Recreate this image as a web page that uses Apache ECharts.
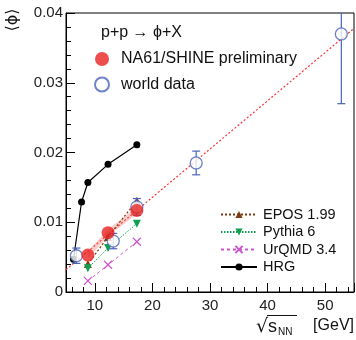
<!DOCTYPE html>
<html>
<head>
<meta charset="UTF-8">
<title>phi multiplicity in p+p</title>
<script src="https://cdn.jsdelivr.net/npm/echarts@6/dist/echarts.min.js"></script>
<style>
  html, body { margin: 0; padding: 0; background: #fff; }
  #chart { width: 356px; height: 340px; }
</style>
</head>
<body>
<div id="chart"></div>
<script>
// energies (sqrt s_NN, GeV)
const modelX = [8.8, 12.3, 17.3];
const hrgX = [6.3, 7.7, 8.8, 12.3, 17.3];
const hrgY = [0.0047, 0.0129, 0.0157, 0.0183, 0.0211];
const na61Y = [0.0053, 0.0085, 0.0117];
const na61Sys = [0.0005, 0.0005, 0.0005];
const eposY = [0.0040, 0.0079, 0.0131];
const pythiaY = [0.0034, 0.0063, 0.0098];
const urqmdY = [0.0016, 0.0039, 0.0072];
const worldX = [6.8, 13.2, 17.3, 27.6, 52.8];
const worldY = [0.0052, 0.0073, 0.0122, 0.0185, 0.0370];
const worldErr = [0.0011, 0.0011, 0.0012, 0.0017, 0.0100];
const fitX = [5, 55];
const fitY = [0.0032, 0.0378];

const FONT = '"Liberation Sans", Arial, sans-serif';
const BLUE = '#4a63b8';
const RED = '#e82222';

const zip = (xs, ys) => xs.map((x, i) => [x, ys[i]]);

const chart = echarts.init(document.getElementById('chart'));

const option = {
  animation: false,
  textStyle: { fontFamily: FONT },
  grid: { left: 66, top: 13, right: 2, bottom: 48, show: true, borderColor: '#000', borderWidth: 1, backgroundColor: 'transparent' },
  xAxis: {
    type: 'value', min: 5, max: 55, splitNumber: 5,
    axisLine: { lineStyle: { color: '#000' } },
    splitLine: { show: false },
    axisTick: { inside: true, length: 9, lineStyle: { color: '#000', width: 1 } },
    minorTick: { show: true, splitNumber: 5, length: 5, lineStyle: { color: '#000', width: 1 } },
    axisLabel: { showMinLabel: false, showMaxLabel: false, fontSize: 15, color: '#222', margin: 6, fontFamily: FONT,
      formatter: v => (v % 10 === 0 ? String(v) : '') }
  },
  yAxis: {
    type: 'value', min: 0, max: 0.04, interval: 0.01,
    axisLine: { lineStyle: { color: '#000' } },
    splitLine: { show: false },
    axisTick: { inside: true, length: 9, lineStyle: { color: '#000', width: 1 } },
    minorTick: { show: true, splitNumber: 5, length: 5, lineStyle: { color: '#000', width: 1 } },
    axisLabel: { fontSize: 15, color: '#222', margin: 3, fontFamily: FONT,
      formatter: v => v === 0 ? '0' : v.toFixed(2) }
  },
  title: {
    text: 'p+p \u2192 \u03d5+X', left: 96, top: 20,
    textStyle: { fontSize: 16, fontWeight: 'normal', color: '#111', fontFamily: FONT }
  },
  legend: [{
    data: ['NA61/SHINE preliminary', 'world data'],
    orient: 'vertical', left: 89, top: 46,
    itemWidth: 28, itemHeight: 14, itemGap: 9.5,
    textStyle: { fontSize: 16, color: '#111', fontFamily: FONT }
  }, {
    data: ['EPOS 1.99', 'Pythia 6', 'UrQMD 3.4', 'HRG'],
    orient: 'vertical', left: 220, top: 207, padding: 0,
    itemWidth: 36, itemHeight: 9, itemGap: 2.5,
    textStyle: { fontSize: 14.5, color: '#111', fontFamily: FONT, padding: [0, 0, 0, 1] }
  }],
  graphic: [
    { type: 'text', x: 13, y: 20, rotation: Math.PI / 2,
      style: { text: '\u27e8\u03d5\u27e9', fontSize: 16, fontFamily: 'DejaVu Sans', fill: '#111',
        textAlign: 'center', textVerticalAlign: 'middle' } },
    { type: 'text', x: 268, y: 327,
      style: { text: '\u221a', fontSize: 19, fontFamily: 'DejaVu Sans', fill: '#111',
        textAlign: 'right', textVerticalAlign: 'middle' } },
    { type: 'line', shape: { x1: 267, y1: 315.5, x2: 297, y2: 315.5 }, style: { stroke: '#111', lineWidth: 1 } },
    { type: 'text', x: 268, y: 327,
      style: { text: 's', fontSize: 18, fontFamily: FONT, fill: '#111', textAlign: 'left', textVerticalAlign: 'middle' } },
    { type: 'text', x: 278, y: 332,
      style: { text: 'NN', fontSize: 10, fontFamily: FONT, fill: '#111', textAlign: 'left', textVerticalAlign: 'middle' } },
    { type: 'text', x: 354, y: 326,
      style: { text: '[GeV]', fontSize: 16, fontFamily: FONT, fill: '#111', textAlign: 'right', textVerticalAlign: 'middle' } }
  ],
  series: [
    {
      name: 'fit', type: 'line', data: zip(fitX, fitY), showSymbol: false, silent: true,
      lineStyle: { color: '#ff3333', width: 1.2, type: [2, 2] }, z: 1
    },
    {
      name: 'NA61 sys', type: 'custom', data: [[0]], z: 2, silent: true,
      renderItem: (params, api) => {
        const up = modelX.map((x, i) => api.coord([x, na61Y[i] + na61Sys[i]]));
        const lo = modelX.map((x, i) => api.coord([x, na61Y[i] - na61Sys[i]])).reverse();
        return { type: 'polygon', shape: { points: up.concat(lo) }, style: { fill: 'rgba(240,110,100,0.35)' } };
      }
    },
    {
      name: 'EPOS 1.99', type: 'line', data: zip(modelX, eposY), symbol: 'triangle', symbolSize: 8,
      itemStyle: { color: '#7b3a10' }, lineStyle: { color: '#7b3a10', width: 1.2, type: [2, 2] }, z: 3
    },
    {
      name: 'Pythia 6', type: 'line', data: zip(modelX, pythiaY), symbol: 'triangle', symbolRotate: 180, symbolSize: 8,
      itemStyle: { color: '#11a050' }, lineStyle: { color: '#11a050', width: 1, type: [1.5, 1.5] }, z: 3
    },
    {
      name: 'UrQMD 3.4', type: 'line', data: zip(modelX, urqmdY),
      symbol: 'path://M0,0L10,10M10,0L0,10', symbolSize: 8,
      itemStyle: { color: 'none', borderColor: '#cc55cc', borderWidth: 1.2 },
      lineStyle: { color: '#cc55cc', width: 1, type: [3, 3] }, z: 3
    },
    {
      name: 'HRG', type: 'line', data: zip(hrgX, hrgY), symbol: 'circle', symbolSize: 7,
      itemStyle: { color: '#000' }, lineStyle: { color: '#000', width: 1.2 }, z: 4
    },
    {
      name: 'world err', type: 'custom', clip: true, z: 5, silent: true,
      data: worldX.map((x, i) => [x, worldY[i], worldErr[i]]),
      renderItem: (params, api) => {
        const x = api.value(0), y = api.value(1), e = api.value(2);
        const top = api.coord([x, y + e]);
        const bot = api.coord([x, y - e]);
        const st = { stroke: BLUE, lineWidth: 1.2 };
        return {
          type: 'group', children: [
            { type: 'line', shape: { x1: top[0], y1: top[1], x2: bot[0], y2: bot[1] }, style: st },
            { type: 'line', shape: { x1: top[0] - 4, y1: top[1], x2: top[0] + 4, y2: top[1] }, style: st },
            { type: 'line', shape: { x1: bot[0] - 4, y1: bot[1], x2: bot[0] + 4, y2: bot[1] }, style: st }
          ]
        };
      }
    },
    {
      name: 'world data', type: 'scatter', data: zip(worldX, worldY), symbol: 'circle', symbolSize: 12,
      itemStyle: { color: '#fff', borderColor: BLUE, borderWidth: 1.3 }, z: 6
    },
    {
      name: 'NA61/SHINE preliminary', type: 'scatter', data: zip(modelX, na61Y), symbol: 'circle', symbolSize: 13,
      itemStyle: { color: RED }, z: 7
    }
  ]
};

chart.setOption(option);
</script>
</body>
</html>
